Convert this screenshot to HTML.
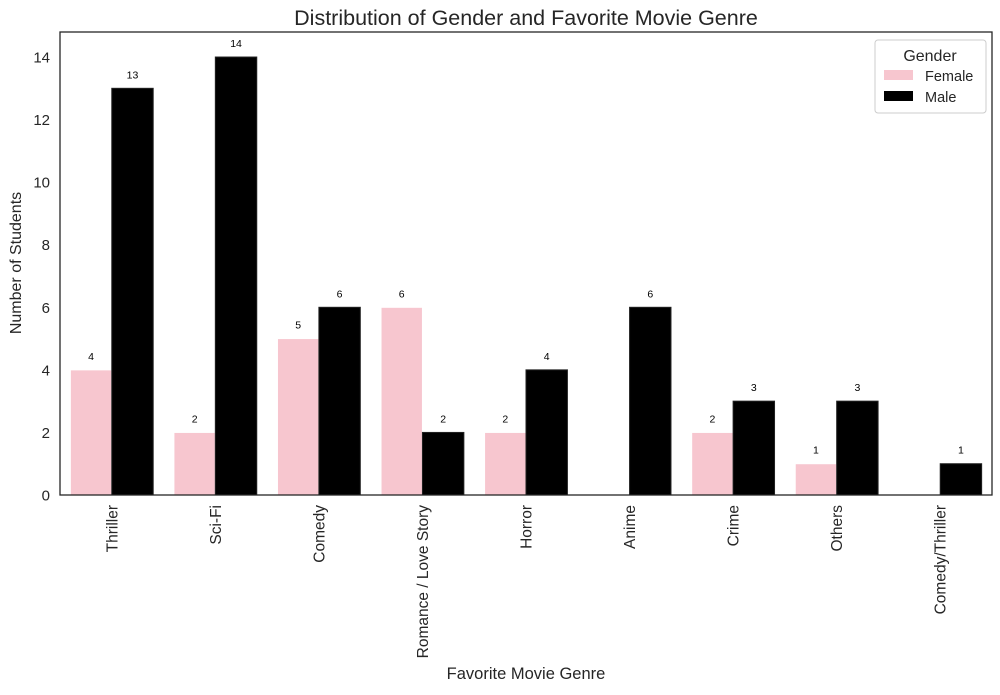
<!DOCTYPE html>
<html><head><meta charset="utf-8"><style>
body{margin:0;background:#fff;font-family:"Liberation Sans","DejaVu Sans",sans-serif;}
</style></head><body>
<svg id="chart" width="1000" height="690" xmlns="http://www.w3.org/2000/svg" font-family="Liberation Sans, DejaVu Sans, sans-serif">
<text x="526" y="25" text-anchor="middle" font-size="21.5" fill="#262626">Distribution of Gender and Favorite Movie Genre</text>
<g id="plot"></g>
<rect x="60" y="32" width="932" height="463" fill="none" stroke="#262626" stroke-width="1.3"/>
<text x="526" y="679" text-anchor="middle" font-size="16.5" fill="#262626">Favorite Movie Genre</text>
<text transform="translate(21,263) rotate(-90)" text-anchor="middle" font-size="16" fill="#262626">Number of Students</text>
<g>
<rect x="875" y="40" width="111" height="73" rx="3" fill="#fff" stroke="#ccc"/>
<text x="930" y="61" text-anchor="middle" font-size="16" fill="#262626">Gender</text>
<rect x="884" y="70" width="29" height="10" fill="#f7c6cf"/>
<text x="925" y="81" font-size="14.5" fill="#262626">Female</text>
<rect x="884" y="91" width="29" height="10" fill="#000"/>
<text x="925" y="102" font-size="14.5" fill="#262626">Male</text>
</g>
</svg>
<script>
const categories=["Thriller","Sci-Fi","Comedy","Romance / Love Story","Horror","Anime","Crime","Others","Comedy/Thriller"];
const female=[4,2,5,6,2,0,2,1,0];
const male=[13,14,6,2,4,6,3,3,1];
const yTicks=[0,2,4,6,8,10,12,14];
const NS="http://www.w3.org/2000/svg";
const L=60,R=992,T=32,B=495,YMAX=14.8;
const band=(R-L)/categories.length;
const y=v=>B-(v/YMAX)*(B-T);
const xc=i=>L+band*(i+0.5);
const g=document.getElementById('plot');
function mk(tag,a){const e=document.createElementNS(NS,tag);for(const k in a)e.setAttribute(k,a[k]);g.appendChild(e);return e;}
yTicks.forEach(t=>{
  const e=mk('text',{x:L-10,y:y(t)+5.5,'text-anchor':'end','font-size':15,fill:'#262626'});
  e.textContent=t;
  
  
});
categories.forEach((c,i)=>{
  const e=mk('text',{transform:`translate(${xc(i)+5.5},505) rotate(-90)`,'text-anchor':'end','font-size':15.5,fill:'#262626'});
  e.textContent=c;
  
  
});
const bw=band*0.4;
[[female,'#f7c6cf','#fff',-1,'female'],[male,'#000','#222',0,'male']].forEach(([vals,fill,stroke,off,nm])=>{
  vals.forEach((v,i)=>{
    const x=xc(i)+off*bw;
    const r=mk('rect',{x:x,y:y(v),width:bw,height:B-y(v),fill:fill,stroke:stroke,'stroke-width':1});
    
    
    if(v>0){
      const t=mk('text',{x:x+bw/2,y:y(v)-10,'text-anchor':'middle','font-size':10.5,fill:'#000'});
      t.textContent=v;
      
      
    }
  });
});
</script>
</body></html>
